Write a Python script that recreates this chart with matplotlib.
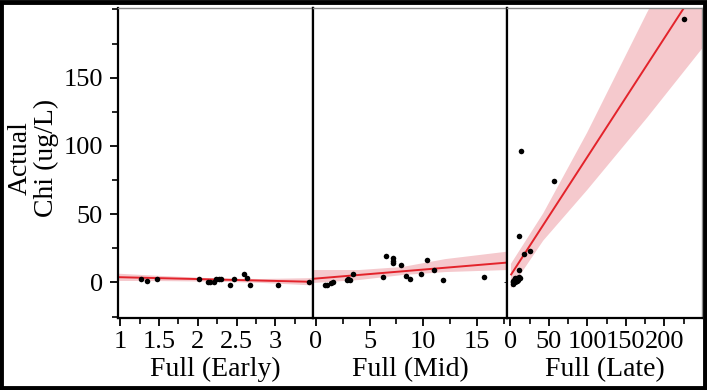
import matplotlib
matplotlib.use("Agg")
import matplotlib.pyplot as plt
from matplotlib.ticker import MultipleLocator, FuncFormatter
from matplotlib.patches import Rectangle

# ---------------- data ----------------
panel_labels = ["Full (Early)", "Full (Mid)", "Full (Late)"]

early_x = [1.27, 1.34, 1.47, 2.01, 2.13, 2.16, 2.21, 2.24, 2.27, 2.30, 2.41, 2.47, 2.59, 2.63, 2.67, 3.03, 3.43]
early_y = [2.7, 1.0, 2.9, 2.7, 0.2, 0.2, 0.2, 2.7, 2.9, 2.9, -2.0, 2.7, 6.3, 3.4, -2.0, -2.0, 0.5]

mid_x = [0.83, 1.08, 1.39, 1.6, 2.93, 3.18, 3.0, 3.49, 6.27, 6.57, 7.19, 7.19, 7.19, 7.96, 8.4, 8.73, 9.81, 10.34, 11.0, 11.8, 15.6]
mid_y = [-2.0, -1.5, -0.7, 0.2, 1.5, 1.5, 2.7, 6.3, 3.9, 19.3, 18.0, 16.1, 14.4, 12.7, 5.1, 2.7, 6.4, 16.8, 9.0, 1.5, 3.9]

late_x = [3, 4, 5, 6, 7, 8, 9, 10, 11, 12, 4, 6, 9, 11, 11.8, 14, 17.5, 25.4, 57, 226]
late_y = [0, 1, 2, 3, 1, 2, 3, 2, 4, 3, -1, 0, 1, 9.5, 34.4, 96.6, 21, 23.4, 74, 193]

# fitted lines (end points) and confidence bands
early_fit_x = [0.97, 3.48]
early_fit_y = [3.9, 0.5]
early_band_x = [0.97, 1.5, 2.2, 2.8, 3.48]
early_band_lo = [1.5, 1.4, 1.0, 0.1, -1.8]
early_band_hi = [6.8, 5.2, 3.4, 2.9, 3.6]

mid_fit_x = [-0.28, 17.8]
mid_fit_y = [2.7, 14.6]
mid_band_x = [-0.28, 4, 8, 12, 17.8]
mid_band_lo = [0.0, 2.2, 5.8, 8.0, 9.5]
mid_band_hi = [9.5, 9.5, 11.7, 17.5, 23.0]

late_fit_x = [1.0, 249]
late_fit_y = [5.9, 221.5]
late_band_x = [0, 42, 99, 177, 249]
late_band_lo = [-4, 31, 68, 121, 172]
late_band_hi = [14, 51, 110, 198, 273]

xlims = [(0.97, 3.48), (-0.28, 17.8), (-4, 249)]
xmajor = [0.5, 5, 50]
xminor = [0.25, 2.5, 25]
ylim = (-26, 201)
yticks = [0, 50, 100, 150]

# ---------------- figure ----------------
plt.rcParams['font.family'] = ['Liberation Serif', 'DejaVu Serif']
W, H = 707, 390
fig = plt.figure(figsize=(W / 100, H / 100), dpi=100)

left_px, right_px, top_px, bot_px = 118, 702, 8, 318
pw = (right_px - left_px) / 3.0

xs = [early_x, mid_x, late_x]
ys = [early_y, mid_y, late_y]
fits = [(early_fit_x, early_fit_y), (mid_fit_x, mid_fit_y), (late_fit_x, late_fit_y)]
bands = [(early_band_x, early_band_lo, early_band_hi),
         (mid_band_x, mid_band_lo, mid_band_hi),
         (late_band_x, late_band_lo, late_band_hi)]

red = '#e3232b'
pink = '#f5c9cd'

def fmt(v, pos):
    if abs(v - round(v)) < 1e-9:
        return "%d" % round(v)
    return ("%g" % v)

for i in range(3):
    x0 = left_px + i * pw
    ax = fig.add_axes([x0 / W, (H - bot_px) / H, pw / W, (bot_px - top_px) / H])
    bx, blo, bhi = bands[i]
    ax.fill_between(bx, blo, bhi, color=pink, lw=0, zorder=1)
    fx, fy = fits[i]
    ax.plot(fx, fy, color=red, lw=1.4, zorder=2)
    ax.scatter(xs[i], ys[i], s=16, color='black', zorder=3, linewidths=0)
    ax.set_xlim(*xlims[i])
    ax.set_ylim(*ylim)
    ax.xaxis.set_major_locator(MultipleLocator(xmajor[i]))
    ax.xaxis.set_minor_locator(MultipleLocator(xminor[i]))
    ax.xaxis.set_major_formatter(FuncFormatter(fmt))
    ax.tick_params(axis='x', which='major', direction='out', length=6, width=1.3,
                   labelsize=19, pad=3, color='black')
    ax.tick_params(axis='x', which='minor', direction='out', length=4, width=1.2, color='black')
    ax.set_xlabel(panel_labels[i], fontsize=20, labelpad=3)
    if i == 0:
        ax.set_yticks(yticks)
        ax.yaxis.set_minor_locator(MultipleLocator(25))
        ax.tick_params(axis='y', which='major', direction='out', length=6, width=1.3,
                       labelsize=19, pad=5)
        ax.tick_params(axis='y', which='minor', direction='out', length=4, width=1.2)
    else:
        ax.set_yticks([])
        ax.yaxis.set_minor_locator(MultipleLocator(1000))
    for s in ['left', 'bottom']:
        ax.spines[s].set_color('black')
        ax.spines[s].set_linewidth(1.6)
    ax.spines['top'].set_color('#8a8a8a')
    ax.spines['top'].set_linewidth(1.0)
    ax.spines['right'].set_color('#8a8a8a' if i == 2 else 'black')
    ax.spines['right'].set_linewidth(1.0 if i == 2 else 1.6)

fig.text(33 / W, 1 - 158 / H, "Actual\nChi (ug/L)", rotation=90, fontsize=20,
         ha='center', va='center', multialignment='center', linespacing=1.05)

# outer black frame of the picture
fig.patches.append(Rectangle((0.002, 0.004), 0.995, 0.991, transform=fig.transFigure,
                             fill=False, edgecolor='black', linewidth=3.5))

fig.savefig("out.png", dpi=100)
